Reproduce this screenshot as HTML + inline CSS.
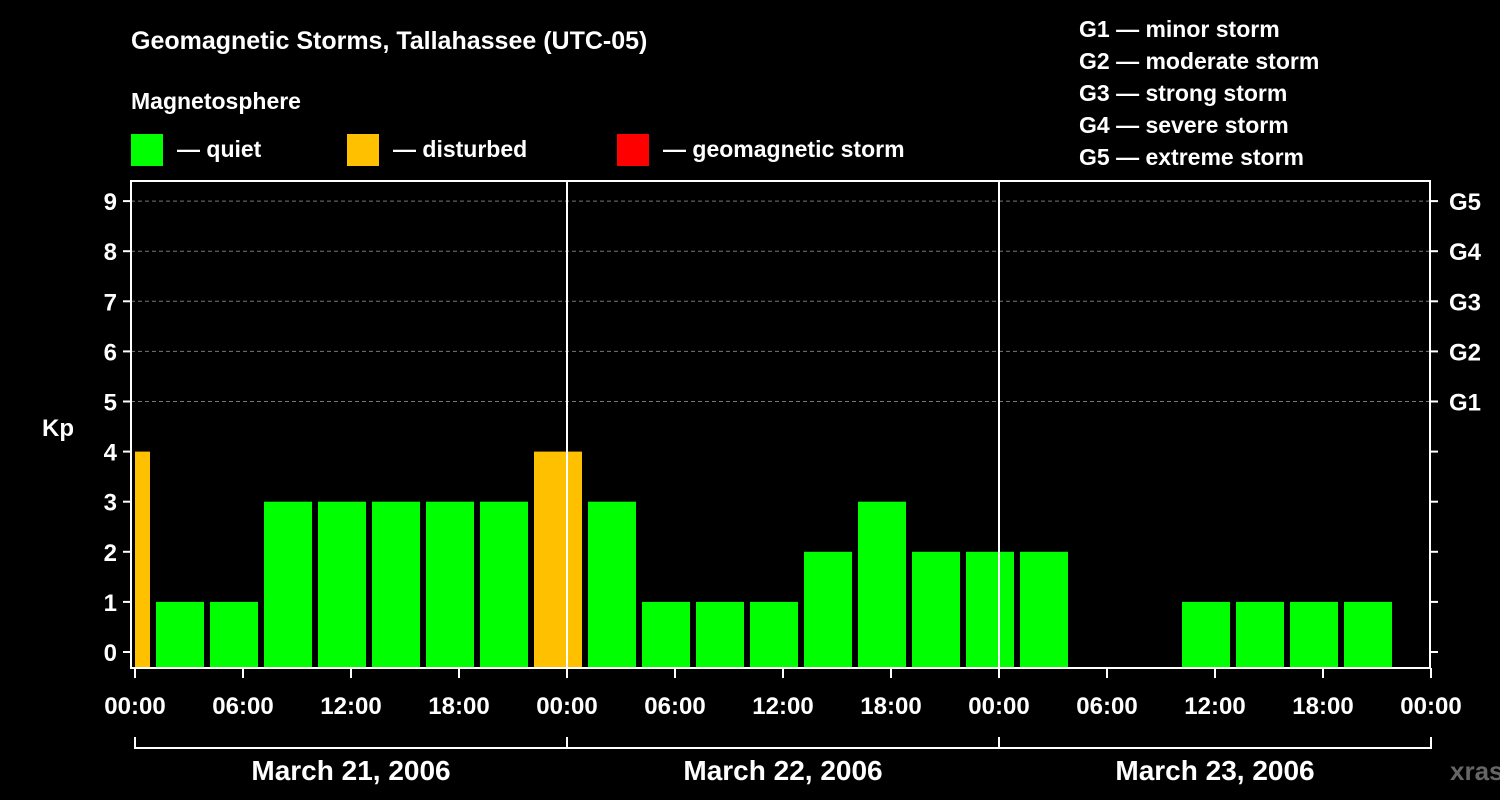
<!DOCTYPE html>
<html><head><meta charset="utf-8"><style>
body{margin:0;background:#000;}
svg{display:block;font-family:"Liberation Sans",Arial,sans-serif;font-weight:bold;}
</style></head><body>
<svg id="c" width="1500" height="800" viewBox="0 0 1500 800">
<rect width="1500" height="800" fill="#000"/>
<text x="131" y="49" font-size="25" fill="#fff">Geomagnetic Storms, Tallahassee (UTC-05)</text>
<text x="131" y="109" font-size="23" fill="#fff">Magnetosphere</text>
<g><rect x="131" y="134" width="32" height="32" fill="#00ff00"/><text x="177" y="157" font-size="23" fill="#fff">— quiet</text></g>
<g><rect x="347" y="134" width="32" height="32" fill="#ffc000"/><text x="393" y="157" font-size="23" fill="#fff">— disturbed</text></g>
<g><rect x="617" y="134" width="32" height="32" fill="#ff0000"/><text x="663" y="157" font-size="23" fill="#fff">— geomagnetic storm</text></g>
<g font-size="23" fill="#fff">
<text x="1079" y="37">G1 — minor storm</text><text x="1079" y="69">G2 — moderate storm</text><text x="1079" y="101">G3 — strong storm</text><text x="1079" y="133">G4 — severe storm</text><text x="1079" y="165">G5 — extreme storm</text></g>
<g id="grid"></g><g id="bars"></g><g id="axes"></g>
<text x="1450" y="780" font-size="26" fill="#666">xras.ru</text>
</svg>
<script>
const kpValues=[4,1,1,3,3,3,3,3,4,3,1,1,1,2,3,2,2,2,null,null,1,1,1,1,null];
const yTicks=[0,1,2,3,4,5,6,7,8,9];
const gLabels=["G1","G2","G3","G4","G5"];
const xTickLabels=["00:00","06:00","12:00","18:00","00:00","06:00","12:00","18:00","00:00","06:00","12:00","18:00","00:00"];
const dayLabels=["March 21, 2006","March 22, 2006","March 23, 2006"];
const NS="http://www.w3.org/2000/svg";
const X0=135,PXH=18,L=131,R=1430,T=181,B=668;
const y=v=>652-v*50.1;
const xh=h=>X0+h*PXH;
function mk(tag,at,par,txt){const e=document.createElementNS(NS,tag);for(const k in at)e.setAttribute(k,at[k]);if(txt!==undefined)e.textContent=txt;document.getElementById(par).appendChild(e);return e;}
// grid
for(let v=5;v<=9;v++){const g=mk('line',{x1:L,x2:R,y1:y(v),y2:y(v),stroke:'#777','stroke-dasharray':'4,3'},'grid');

}
// bars
kpValues.forEach((v,i)=>{if(v===null)return;
let s=xh(-2+3*i)+3,e=xh(1+3*i)-3;s=Math.max(s,X0);e=Math.min(e,R);
const r=mk('rect',{x:s,y:y(v),width:e-s,height:B-y(v),fill:v>=5?'#ff0000':(v>=4?'#ffc000':'#00ff00')},'bars');

});
// frame
const f=mk('rect',{x:L,y:T,width:R-L,height:B-T,fill:'none',stroke:'#fff','stroke-width':2},'axes');


[24,48].forEach(h=>{const l=mk('line',{x1:xh(h),x2:xh(h),y1:T,y2:B,stroke:'#fff','stroke-width':2},'axes');

});
yTicks.forEach(v=>{mk('line',{x1:L-8,x2:L,y1:y(v),y2:y(v),stroke:'#fff','stroke-width':2},'axes');
mk('line',{x1:R,x2:R+8,y1:y(v),y2:y(v),stroke:'#fff','stroke-width':2},'axes');
const t=mk('text',{x:117,y:y(v)+9,'font-size':24,fill:'#fff','text-anchor':'end'},'axes',v);

});
gLabels.forEach((g,i)=>{const t=mk('text',{x:1449,y:y(5+i)+9,'font-size':24,fill:'#fff'},'axes',g);

});
const kp=mk('text',{x:42,y:436,'font-size':24,fill:'#fff'},'axes','Kp');


xTickLabels.forEach((s,i)=>{const x=xh(i*6);mk('line',{x1:x,x2:x,y1:B,y2:B+10,stroke:'#fff','stroke-width':2},'axes');
const t=mk('text',{x:x,y:714,'font-size':24,fill:'#fff','text-anchor':'middle'},'axes',s);

});
mk('line',{x1:xh(0),x2:xh(72),y1:748,y2:748,stroke:'#fff','stroke-width':2},'axes');
for(let d=0;d<=3;d++)mk('line',{x1:xh(d*24),x2:xh(d*24),y1:737,y2:749,stroke:'#fff','stroke-width':2},'axes');
dayLabels.forEach((s,i)=>{const t=mk('text',{x:xh(i*24+12),y:780,'font-size':28,fill:'#fff','text-anchor':'middle'},'axes',s);

});
</script>
</body></html>
